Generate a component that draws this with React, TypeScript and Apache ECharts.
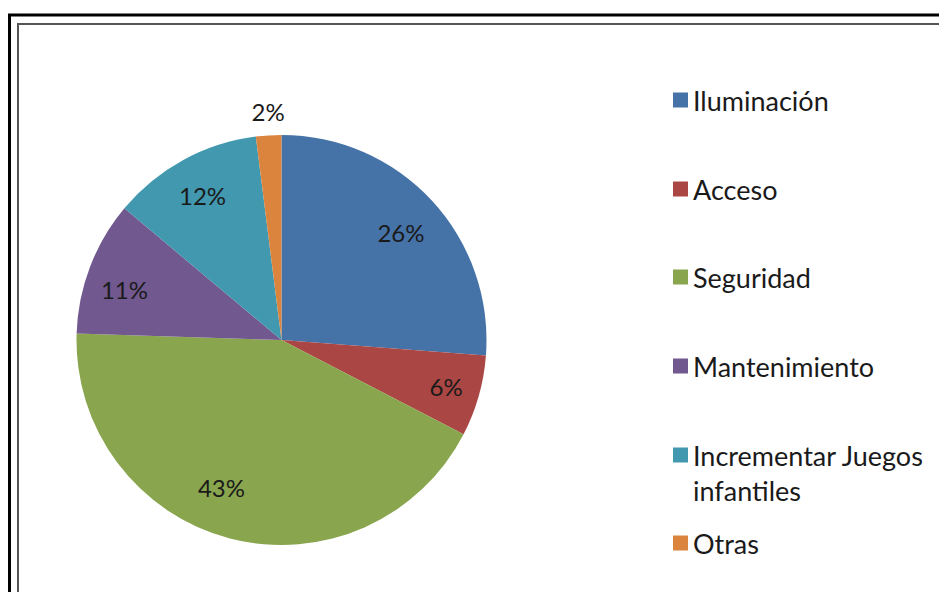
import React, { useEffect, useRef } from "react";
import * as echarts from "echarts";

const categories = [
  "Iluminación",
  "Acceso",
  "Seguridad",
  "Mantenimiento",
  "Incrementar Juegos infantiles",
  "Otras",
];
const values = [26.2, 6.4, 42.9, 10.6, 11.9, 2.0];
const colors = ["#4572A7", "#AA4643", "#89A54E", "#71588F", "#4198AF", "#DB843D"];
// vertical centre of each legend entry (first text line)
const legendCenters = [100, 189, 277, 366, 455, 543];
// small nudges of the percentage labels (styling only)
const labelNudge = [
  [-3, 6],
  [4, 1],
  [-18, -14],
  [-1, 9],
  [1, 2],
  [1, 1],
];

const FONT = "Lato, 'Noto Sans', sans-serif";
const FS = 24;
const LFS = 27;
const R = 205;
const CX = 281.5;
const CY = 340;

export default function App() {
  const ref = useRef<HTMLDivElement>(null);
  useEffect(() => {
    if (!ref.current) return;
    const chart = echarts.init(ref.current, undefined, { renderer: "svg" });
    const data = categories.map((name, i) => ({
      name,
      value: values[i],
      itemStyle: { color: colors[i] },
    }));
    const fmt = (p: any) => Math.round(p.percent) + "%";
    const labelStyle = { fontFamily: FONT, fontSize: FS, color: "#1a1a1a" };
    const lastIdx = categories.length - 1;

    const legends = categories.map((name, i) => {
      const multi = name.includes(" infantiles");
      const lh = multi ? 35 : 32;
      const h = multi ? lh * 3 : lh;
      return {
        orient: "vertical",
        left: 673,
        top: legendCenters[i] - h / 2,
        padding: 0,
        itemWidth: 15,
        itemHeight: 15,
        icon: "rect",
        selectedMode: false,
        data: [{ name, itemStyle: { color: colors[i] } }],
        formatter: (n: string) =>
          n.includes(" infantiles") ? " \n" + n.replace(" infantiles", "\ninfantiles") : n,
        textStyle: {
          fontFamily: FONT,
          fontSize: LFS,
          color: "#1a1a1a",
          lineHeight: lh,
        },
      };
    });

    const helperData = (show: (i: number) => boolean) =>
      categories.map((name, i) => ({
        name,
        value: values[i],
        label: { show: show(i), offset: labelNudge[i] },
      }));

    chart.setOption({
      animation: false,
      backgroundColor: "#ffffff",
      legend: legends,
      graphic: [
        {
          type: "rect",
          shape: { x: 9.5, y: 15, width: 1200, height: 1200 },
          style: { fill: "none", stroke: "#000", lineWidth: 3 },
          silent: true,
        },
        {
          type: "rect",
          shape: { x: 18, y: 24, width: 1200, height: 1200 },
          style: { fill: "none", stroke: "#555", lineWidth: 2 },
          silent: true,
        },
      ],
      series: [
        {
          type: "pie",
          center: [CX, CY],
          radius: R,
          startAngle: 90,
          clockwise: true,
          silent: true,
          label: { show: false },
          labelLine: { show: false },
          itemStyle: { borderWidth: 0 },
          data,
        },
        {
          // invisible helper: places inner labels at 0.8 of the radius
          type: "pie",
          center: [CX, CY],
          radius: R * 1.6,
          startAngle: 90,
          clockwise: true,
          silent: true,
          z: 3,
          itemStyle: { color: "rgba(0,0,0,0)", borderWidth: 0 },
          emphasis: { disabled: true },
          label: { show: true, position: "inside", formatter: fmt, ...labelStyle },
          labelLine: { show: false },
          data: helperData((i) => i !== lastIdx),
        },
        {
          // invisible helper: places the small slice's label just outside the pie
          type: "pie",
          center: [CX, CY],
          radius: (R + 22) * 2,
          startAngle: 90,
          clockwise: true,
          silent: true,
          z: 3,
          itemStyle: { color: "rgba(0,0,0,0)", borderWidth: 0 },
          emphasis: { disabled: true },
          label: { show: true, position: "inside", formatter: fmt, ...labelStyle },
          labelLine: { show: false },
          data: helperData((i) => i === lastIdx),
        },
      ],
    });
    return () => chart.dispose();
  }, []);
  return (
    <div
      ref={ref}
      style={{ position: "fixed", left: 0, top: 0, width: 939, height: 592 }}
    />
  );
}
